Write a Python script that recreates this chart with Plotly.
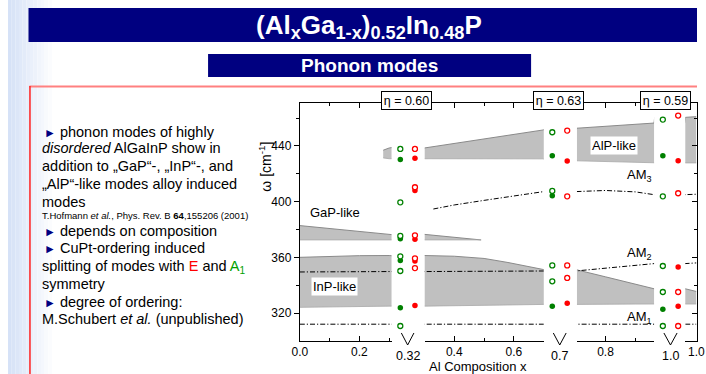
import plotly.graph_objects as go

W, H = 706, 374

# ---------------- data ----------------
gap_labels = ["0.32", "0.7", "1.0"]
eta_labels = ["η = 0.60", "η = 0.63", "η = 0.59"]
sym_cats = ["A1", "E"]

# measured modes at x = 0.32
a1_open_032 = [437.8, 399.5, 375.4, 360.7, 350.2, 310.7]
a1_fill_032 = [430.2, 373.3, 357.8, 323.8]
e_open_032 = [437.8, 410.3, 375.8, 359.3, 352.3]
e_fill_032 = [431.1, 407.9, 373.0, 357.4, 325.4]
# x = 0.7
a1_open_07 = [449.8, 407.7, 354.2, 342.8]
a1_fill_07 = [433.0, 404.3, 324.9]
e_open_07 = [451.0, 403.8, 354.2, 345.2]
e_fill_07 = [429.2, 327.0]
# x = 1.0
a1_open_10 = [458.9, 403.8, 353.8, 335.1, 310.7]
a1_fill_10 = [433.0, 322.7]
e_open_10 = [461.8, 406.0, 335.1, 310.7]
e_fill_10 = [429.4, 353.0, 324.9]

# disordered-alloy bands (composition x, upper, lower edge)
gap_x = [0.0, 0.30, 0.49]
gap_top = [382.8, 376.3, 372.5]
gap_bot = [372.5, 372.5, 372.5]

inp_x = [0.0, 0.1, 0.2, 0.3, 0.4, 0.5, 0.58, 0.7, 0.8, 0.9, 1.0]
inp_top = [360.0, 360.8, 361.2, 361.3, 360.8, 359.2, 356.3, 351.2, 346.0, 341.0, 335.5]
inp_bot = [324.1, 324.3, 324.5, 324.8, 325.0, 325.5, 325.8, 326.2, 326.5, 326.5, 326.5]

alp_x = [0.28, 0.30, 0.70, 0.704, 0.963, 0.965, 1.0]
alp_top = [436.9, 438.5, 451.5, 452.7, 456.4, 460.5, 461.0]
alp_bot = [431.4, 430.8, 430.7, 429.3, 427.9, 427.8, 427.8]

# alloy induced modes
am1_x = [0.0, 1.0]
am1_y = [312.0, 312.0]
am2_x = [0.0, 0.3, 0.7, 0.963, 1.0]
am2_y = [349.5, 349.8, 350.2, 355.5, 356.0]
am3_x = [0.33, 0.4, 0.5, 0.6, 0.7, 0.8, 0.9, 0.963, 1.0]
am3_y = [394.7, 397.6, 400.9, 404.1, 407.2, 408.0, 407.0, 405.0, 405.3]

# ---------------- geometry ----------------
FONT = "Liberation Sans, Arial, sans-serif"
GREEN, RED = "#008000", "#ff0000"
Y_TOP_PX, Y_BOT_PX = 103, 340.5
ydom = [1 - Y_BOT_PX / H, 1 - Y_TOP_PX / H]

segs = [  # axis id, pixel domain, range, y axis
    ("x", (299, 393), (0.0, 0.308), "y"),
    ("x3", (427, 549), (0.301, 0.700), "y"),
    ("x5", (583, 662), (0.704, 0.963), "y"),
    ("x7", (694, 705.5), (0.965, 1.0005), "y2"),
]
gaps = [
    ("x2", (393, 427), (-0.6, 1.667)),
    ("x4", (549, 583), (-0.569, 1.653)),
    ("x6", (662, 694), (-0.573, 1.465)),
]
gap_open = [(a1_open_032, e_open_032), (a1_open_07, e_open_07), (a1_open_10, e_open_10)]
gap_fill = [(a1_fill_032, e_fill_032), (a1_fill_07, e_fill_07), (a1_fill_10, e_fill_10)]


def px(v):
    return v / W


def py(v):
    return 1 - v / H


fig = go.Figure()

dash = "5px,2px,1.2px,2px"
for xa, dom, rng, ya in segs:
    for bx, bt, bb in [(gap_x, gap_top, gap_bot), (inp_x, inp_top, inp_bot), (alp_x, alp_top, alp_bot)]:
        fig.add_trace(go.Scatter(x=bx + bx[::-1], y=bt + bb[::-1], fill="toself",
                                 fillcolor="#c0c0c0", mode="lines", line=dict(width=0),
                                 xaxis=xa, yaxis=ya, hoverinfo="skip"))
        fig.add_trace(go.Scatter(x=bx, y=bt, mode="lines", line=dict(color="#8a8a8a", width=1),
                                 xaxis=xa, yaxis=ya, hoverinfo="skip"))
        fig.add_trace(go.Scatter(x=bx, y=bb, mode="lines", line=dict(color="#a8a8a8", width=0.8),
                                 xaxis=xa, yaxis=ya, hoverinfo="skip"))
    for lx, ly in [(am1_x, am1_y), (am2_x, am2_y), (am3_x, am3_y)]:
        fig.add_trace(go.Scatter(x=lx, y=ly, mode="lines",
                                 line=dict(color="black", width=1, dash=dash),
                                 xaxis=xa, yaxis=ya, hoverinfo="skip"))

for (xa, dom, rng), (a1o, eo), (a1f, ef) in zip(gaps, gap_open, gap_fill):
    for vals, cat, col in [(a1f, sym_cats[0], GREEN), (ef, sym_cats[1], RED)]:
        fig.add_trace(go.Scatter(x=[cat] * len(vals), y=vals, mode="markers",
                                 marker=dict(symbol="circle", size=5.5, color=col, line=dict(width=0)),
                                 xaxis=xa, yaxis="y", hoverinfo="skip"))
    for vals, cat, col in [(a1o, sym_cats[0], GREEN), (eo, sym_cats[1], RED)]:
        fig.add_trace(go.Scatter(x=[cat] * len(vals), y=vals, mode="markers",
                                 marker=dict(symbol="circle", size=5, color="white",
                                             line=dict(width=1.3, color=col)),
                                 xaxis=xa, yaxis="y", hoverinfo="skip"))

layout = dict(
    width=W, height=H, autosize=False, margin=dict(l=0, r=0, t=0, b=0),
    paper_bgcolor="white", plot_bgcolor="rgba(0,0,0,0)", showlegend=False,
    font=dict(family=FONT, color="black", size=12),
)

tickfont = dict(family=FONT, size=12, color="black")
for xa, dom, rng, ya in segs:
    key = "xaxis" + xa[1:]
    layout[key] = dict(domain=[px(dom[0]), px(dom[1])], range=list(rng), anchor=ya,
                       showline=True, linecolor="black", linewidth=1, mirror="ticks",
                       ticks="inside", ticklen=5, tickwidth=1, tickcolor="black",
                       tick0=0, dtick=0.2, tickformat=".1f", tickfont=tickfont,
                       ticklabeloverflow="allow",
                       minor=dict(dtick=0.1, ticks="inside", ticklen=3, tickcolor="black"),
                       showgrid=False, zeroline=False)
for xa, dom, rng in gaps:
    key = "xaxis" + xa[1:]
    layout[key] = dict(domain=[px(dom[0]), px(dom[1])], range=list(rng), anchor="y",
                       type="category", categoryorder="array", categoryarray=sym_cats,
                       visible=False)

layout["yaxis"] = dict(domain=ydom, range=[300.3, 470.8], anchor="x", showline=True,
                       linecolor="black", linewidth=1, ticks="outside", ticklen=5,
                       tickcolor="black", tick0=0, dtick=40, tickfont=tickfont,
                       minor=dict(dtick=20, ticks="outside", ticklen=3, tickcolor="black"),
                       showgrid=False, zeroline=False)
layout["yaxis2"] = dict(domain=ydom, matches="y", anchor="x7", side="right", showline=True,
                        linecolor="black", linewidth=1, ticks="inside", ticklen=5,
                        tickcolor="black", tick0=0, dtick=40, showticklabels=False,
                        minor=dict(dtick=20, ticks="inside", ticklen=3, tickcolor="black"),
                        showgrid=False, zeroline=False)

shapes = []
# light blue slide gradient at left
n = 12
for i in range(n):
    t = i / n
    c = (int(214 + (255 - 214) * t), int(226 + (255 - 226) * t), int(247 + (255 - 247) * t))
    shapes.append(dict(type="rect", xref="paper", yref="paper", x0=px(i * 45 / n), x1=px((i + 1) * 45 / n),
                       y0=0, y1=1, fillcolor="rgb(%d,%d,%d)" % c, line=dict(width=0), layer="below"))
# title bars
shapes.append(dict(type="rect", xref="paper", yref="paper", x0=px(21), x1=1, y0=py(42), y1=py(8),
                   fillcolor="#000080", line=dict(width=0), layer="below"))
shapes.append(dict(type="rect", xref="paper", yref="paper", x0=px(205), x1=px(536), y0=py(77), y1=py(54),
                   fillcolor="#000080", line=dict(width=0), layer="below"))
# red frame
shapes.append(dict(type="line", xref="paper", yref="paper", x0=px(22), x1=1, y0=py(86.5), y1=py(86.5),
                   line=dict(color="#ff8080", width=2)))
shapes.append(dict(type="line", xref="paper", yref="paper", x0=px(22.5), x1=px(22.5), y0=0, y1=py(86),
                   line=dict(color="#ff2020", width=1.5)))
# axis break symbols
for xa, dom, rng in gaps:
    shapes.append(dict(type="path", xref=xa, yref="paper",
                       path="M %.3f,%.5f L %.3f,%.5f L %.3f,%.5f" % (0.07, py(333), 0.5, py(345), 0.93, py(333)),
                       line=dict(color="black", width=1)))
layout["shapes"] = shapes

ann = []


def A(**kw):
    kw.setdefault("showarrow", False)
    kw.setdefault("xanchor", "center")
    kw.setdefault("yanchor", "middle")
    ann.append(kw)


A(text="<b>(Al<sub>x</sub>Ga<sub>1-x</sub>)<sub>0.52</sub>In<sub>0.48</sub>P</b>",
  xref="paper", yref="paper", x=px(370), y=py(27), font=dict(family=FONT, size=26, color="white"))
A(text="<b>Phonon modes</b>", xref="paper", yref="paper", x=px(370), y=py(65.5),
  font=dict(family=FONT, size=19, color="white"))

bul = "<span style='color:#000080;font-size:12px'>►</span> "
FS = 14.5
left_lines = [
    (131.7, 35, FS, bul + "phonon modes of highly"),
    (148.3, 33, FS, "<i>disordered</i> AlGaInP show in"),
    (166.0, 33, FS, "addition to „GaP“-, „InP“-, and"),
    (184.0, 33, FS, "„AlP“-like modes alloy induced"),
    (201.7, 33, FS, "modes"),
    (215.7, 33, 9.5, "T.Hofmann <i>et al.</i>, Phys. Rev. B <b>64</b>,155206 (2001)"),
    (231.0, 35, FS, bul + "depends on composition"),
    (248.3, 35, FS, bul + "CuPt-ordering induced"),
    (266.5, 33, FS, "splitting of modes with <span style='color:#ff0000'>E</span> and "
                    "<span style='color:#00a000'>A<sub>1</sub></span>"),
    (284.0, 33, FS, "symmetry"),
    (301.7, 35, FS, bul + "degree of ordering:"),
    (319.3, 33, FS, "M.Schubert <i>et al.</i> (unpublished)"),
]
for yy, xx, fs, txt in left_lines:
    A(text=txt, xref="paper", yref="paper", x=px(xx), y=py(yy), xanchor="left",
      font=dict(family=FONT, size=fs, color="black"))

# band / mode labels
A(text="GaP-like", xref="x", yref="y", x=0.118, y=392.3, font=dict(family=FONT, size=13))
A(text="InP-like", xref="x", yref="y", x=0.117, y=338.8, bgcolor="white", borderpad=1,
  font=dict(family=FONT, size=13))
A(text="AlP-like", xref="x5", yref="y", x=0.828, y=440.0, bgcolor="white", borderpad=1,
  font=dict(family=FONT, size=13))
for lab, yv in [("AM<sub>3</sub>", 418.5), ("AM<sub>2</sub>", 362.5), ("AM<sub>1</sub>", 316.5)]:
    A(text=lab, xref="x5", yref="y", x=0.915, y=yv, font=dict(family=FONT, size=13))

# gap labels and ordering parameter boxes
eta_shift = [-1.5, -1, -5]
for (xa, dom, rng), gl, el, sh in zip(gaps, gap_labels, eta_labels, eta_shift):
    A(text=gl, xref=xa, yref="paper", x=0.5, y=py(355.5), font=dict(family=FONT, size=12.5))
    A(text=el, xref=xa, yref="paper", x=0.5, y=py(101), xshift=sh, width=46, height=14,
      bgcolor="white", bordercolor="black", borderwidth=1, borderpad=1.5,
      font=dict(family=FONT, size=12.5))

A(text="Al Composition x", xref="paper", yref="paper", x=px(482), y=py(366.5),
  font=dict(family=FONT, size=13))
A(text="ω [cm<sup>-1</sup>]", xref="paper", yref="paper", x=px(263), y=py(167),
  textangle=-90, font=dict(family=FONT, size=14))
layout["annotations"] = ann

fig.update_layout(**layout)
fig.write_html("out.html", config={"displayModeBar": False})
